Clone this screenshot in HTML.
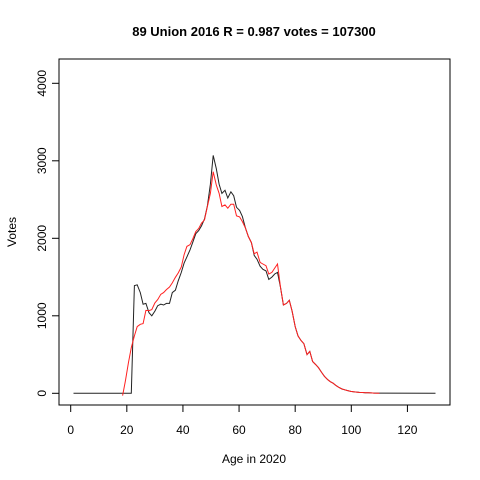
<!DOCTYPE html>
<html><head><meta charset="utf-8"><style>
html,body{margin:0;padding:0;background:#fff}
svg{display:block;font-family:"Liberation Sans",Arial,sans-serif}
</style></head><body>
<svg id="chart" width="480" height="480" viewBox="0 0 480 480">
<rect x="0" y="0" width="480" height="480" fill="#fff"/>
<text x="254" y="36" text-anchor="middle" font-size="13" font-weight="bold">89 Union 2016 R = 0.987 votes = 107300</text>
<rect x="59" y="59" width="391" height="346" fill="none" stroke="#000" stroke-width="1"/>
<text x="254" y="463" text-anchor="middle" font-size="12">Age in 2020</text>
<text x="0" y="0" transform="translate(16,232) rotate(-90)" text-anchor="middle" font-size="12">Votes</text>
<g id="xaxis"></g>
<g id="yaxis"></g>
<g id="series"></g>
</svg>
<script>
const xTicks=[0,20,40,60,80,100,120];
const yTicks=[0,1000,2000,3000,4000];
const blackAges=[1,21.6,22.7,23.7,24.8,25.8,26.8,27.9,28.9,30,31,32.1,33.1,34.1,35.2,36.2,37.3,38.3,39.4,40.4,41.4,42.5,43.5,44.6,45.6,46.6,47.7,48.7,49.8,50.8,51.9,52.9,53.9,55,56,57.1,58.1,59.1,60.2,61.2,62.3,63.3,64.4,65.4,66.4,67.5,68.5,69.6,70.6,71.7,72.7,73.7,74.8,75.8,76.9,77.9,78.9,80,81,82.1,83.1,84.2,85.2,86.2,87.3,88.3,89.4,90.4,91.5,92.5,93.5,94.6,95.6,96.7,97.7,98.7,99.8,100.8,101.9,102.9,104,105,106,107.1,108.1,130];
const blackVotes=[0,0,1390,1400,1300,1150,1160,1040,1000,1060,1130,1150,1140,1160,1160,1300,1330,1450,1560,1680,1760,1850,1950,2060,2100,2160,2250,2420,2700,3070,2900,2700,2580,2620,2520,2600,2550,2400,2360,2280,2130,2024,1945,1780,1730,1640,1600,1580,1470,1500,1540,1560,1360,1140,1160,1200,1060,860,740,680,640,500,540,410,370,330,270,220,180,150,130,100,75,55,45,35,25,20,15,12,10,8,6,5,2,0];
const redAges=[18.5,19.5,20.6,21.6,22.7,23.7,24.8,25.8,26.8,27.9,28.9,30,31,32.1,33.1,34.1,35.2,36.2,37.3,38.3,39.4,40.4,41.4,42.5,43.5,44.6,45.6,46.6,47.7,48.7,49.8,50.8,51.9,52.9,53.9,55,56,57.1,58.1,59.1,60.2,61.2,62.3,63.3,64.4,65.4,66.4,67.5,68.5,69.6,70.6,71.7,72.7,73.7,74.8,75.8,76.9,77.9,78.9,80,81,82.1,83.1,84.2,85.2,86.2,87.3,88.3,89.4,90.4,91.5,92.5,93.5,94.6,95.6,96.7,97.7,98.7,99.8,100.8,101.9,102.9,104,105,106,107.1,108.1,110];
const redVotes=[-30,160,400,590,740,860,890,900,1070,1067,1080,1166,1209,1278,1299,1338,1372,1424,1497,1552,1630,1788,1895,1917,1994,2088,2127,2195,2238,2410,2581,2860,2688,2581,2410,2431,2388,2440,2440,2289,2276,2216,2130,2024,1945,1800,1822,1689,1668,1646,1539,1560,1616,1668,1360,1140,1160,1200,1060,860,740,680,640,500,540,410,370,330,270,220,180,150,130,100,75,55,45,35,25,20,15,12,10,8,6,5,2,0];
const NS="http://www.w3.org/2000/svg";
function xs(a){return 70.7+a*2.806;}
function ys(v){return 393.3-v*0.0775;}
const xa=document.getElementById('xaxis');
const ya=document.getElementById('yaxis');
const sg=document.getElementById('series');
let l=document.createElementNS(NS,'line');
l.setAttribute('x1',xs(xTicks[0]));l.setAttribute('x2',xs(xTicks[xTicks.length-1]));
l.setAttribute('y1',405);l.setAttribute('y2',405);l.setAttribute('stroke','#000');


xa.appendChild(l);
xTicks.forEach(t=>{
 const tk=document.createElementNS(NS,'line');
 tk.setAttribute('x1',xs(t));tk.setAttribute('x2',xs(t));tk.setAttribute('y1',405);tk.setAttribute('y2',412);tk.setAttribute('stroke','#000');
 
 
 xa.appendChild(tk);
 const tx=document.createElementNS(NS,'text');
 tx.setAttribute('x',xs(t));tx.setAttribute('y',434);tx.setAttribute('text-anchor','middle');tx.setAttribute('font-size','12');
 tx.textContent=t;
 
 
 xa.appendChild(tx);
});
l=document.createElementNS(NS,'line');
l.setAttribute('x1',59);l.setAttribute('x2',59);
l.setAttribute('y1',ys(yTicks[0]));l.setAttribute('y2',ys(yTicks[yTicks.length-1]));l.setAttribute('stroke','#000');


ya.appendChild(l);
yTicks.forEach(t=>{
 const tk=document.createElementNS(NS,'line');
 tk.setAttribute('x1',52);tk.setAttribute('x2',59);tk.setAttribute('y1',ys(t));tk.setAttribute('y2',ys(t));tk.setAttribute('stroke','#000');
 
 
 ya.appendChild(tk);
 const tx=document.createElementNS(NS,'text');
 tx.setAttribute('transform','translate(46,'+ys(t)+') rotate(-90)');tx.setAttribute('text-anchor','middle');tx.setAttribute('font-size','12');
 tx.textContent=t;
 
 
 ya.appendChild(tx);
});
function drawLine(ages,vals,color,name){
 const p=document.createElementNS(NS,'polyline');
 p.setAttribute('points',ages.map((a,i)=>xs(a).toFixed(1)+','+ys(vals[i]).toFixed(1)).join(' '));
 p.setAttribute('fill','none');p.setAttribute('stroke',color);p.setAttribute('stroke-width','1');
 
 
 sg.appendChild(p);
}
drawLine(blackAges,blackVotes,'#222','actual-votes-line');
drawLine(redAges,redVotes,'#ff2020','predicted-votes-line');
</script>
</body></html>
